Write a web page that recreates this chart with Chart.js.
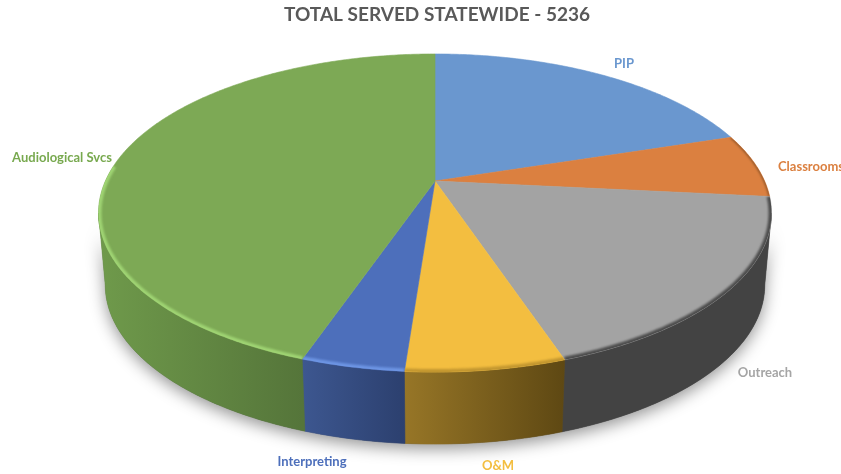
<!DOCTYPE html>
<html>
<head>
<meta charset="utf-8">
<title>Total served statewide</title>
<style>
  html, body { margin: 0; padding: 0; background: #fff; overflow: hidden; }
  canvas { display: block; }
</style>
<script src="https://cdn.jsdelivr.net/npm/chart.js@4/dist/chart.umd.min.js"></script>
</head>
<body>
<canvas id="served-pie" width="841" height="474"></canvas>
<script>
// Program totals, clockwise from 12 o'clock
const programs = ['PIP', 'Classrooms', 'Outreach', 'O&M', 'Interpreting', 'Audiological Svcs'];
const served = [1052, 340, 956, 332, 215, 2341];
const titleText = 'TOTAL SERVED STATEWIDE - 5236';

const topColors = ['#6a97cf', '#db8040', '#a3a3a3', '#f3be40', '#4d6fbb', '#7da955'];
const labelColors = ['#6a97cf', '#db8040', '#a5a5a5', '#f3be40', '#4d6fbb', '#78a94f'];
// wall gradient, left end then right end
const wallColors = [null, null, ['#434343', '#434343'], ['#977627', '#5e4813'], ['#3d5790', '#2c406f'], ['#6f9a4b', '#55753a']];
// rim bevel colour per slice, null = no bevel
const rimColors = [null, '#8f5427', '#4c4c4c', '#c2962f', '#6d95e4', '#9fd473'];
const labelSpots = [[624, 64], [778, 167], [765, 373], [498, 466], [312, 462], [62, 158]];

// Tilted disc: the pie plane is projected with a small perspective term
const view = { cx: 435, cy: 181, a: 329.6, b: 152.6, p: 0.2013, wallA: 323, depth: 72 };

function rimPoint(angle, radius, a, drop) {
    const u = Math.cos(angle) * radius;
    const v = Math.sin(angle) * radius;
    const w = 1 - view.p * v;
    return [view.cx + a * u / w, view.cy + view.b * v / w + drop];
}

function traceRim(ctx, from, to, radius, a, drop, keepGoing) {
    const steps = Math.max(2, Math.ceil(Math.abs(to - from) / 0.01));
    for (let i = 0; i <= steps; i++) {
        const pt = rimPoint(from + (to - from) * i / steps, radius, a, drop);
        if (i === 0 && !keepGoing) ctx.moveTo(pt[0], pt[1]);
        else ctx.lineTo(pt[0], pt[1]);
    }
}

function traceWall(ctx, from, to) {
    ctx.beginPath();
    traceRim(ctx, from, to, 1, view.a, 0, false);
    traceRim(ctx, to, from, 1, view.wallA, view.depth, true);
    ctx.closePath();
}

function traceSlice(ctx, from, to) {
    ctx.beginPath();
    ctx.moveTo(view.cx, view.cy);
    traceRim(ctx, from, to, 1, view.a, 0, true);
    ctx.closePath();
}

const tiltedPie = {
    id: 'tiltedPie',
    // stands in for the flat arc drawing, still reads angles off the arc elements
    beforeDatasetsDraw(chart) {
        const ctx = chart.ctx;
        const arcs = chart.getDatasetMeta(0).data;
        const wallFrom = Math.asin(view.p);
        const wallTo = Math.PI - wallFrom;

        // soft ground shadow under the whole wall
        ctx.save();
        ctx.shadowColor = 'rgba(0,0,0,0.42)';
        ctx.shadowBlur = 16;
        ctx.shadowOffsetY = 5;
        ctx.fillStyle = '#555';
        traceWall(ctx, wallFrom, wallTo);
        ctx.fill();
        ctx.restore();

        arcs.forEach((arc, i) => {
            if (!wallColors[i]) return;
            const from = Math.max(arc.startAngle, wallFrom);
            const to = Math.min(arc.endAngle, wallTo);
            if (to <= from) return;
            const left = rimPoint(to, 1, view.a, 0)[0];
            const right = rimPoint(from, 1, view.a, 0)[0];
            const grad = ctx.createLinearGradient(left, 0, right, 0);
            grad.addColorStop(0, wallColors[i][0]);
            grad.addColorStop(1, wallColors[i][1]);
            ctx.fillStyle = grad;
            ctx.strokeStyle = grad;
            ctx.lineWidth = 0.6;
            traceWall(ctx, from, to);
            ctx.fill();
            ctx.stroke();
        });

        arcs.forEach((arc, i) => {
            ctx.fillStyle = topColors[i];
            ctx.strokeStyle = topColors[i];
            ctx.lineWidth = 0.6;
            traceSlice(ctx, arc.startAngle, arc.endAngle);
            ctx.fill();
            ctx.stroke();
        });

        // bevel along the outer edge of the top face, clipped so only the inner half shows
        arcs.forEach((arc, i) => {
            if (!rimColors[i]) return;
            const from = arc.startAngle;
            const to = Math.min(arc.endAngle, Math.PI + 0.1);
            ctx.save();
            traceSlice(ctx, arc.startAngle, arc.endAngle);
            ctx.clip();
            ctx.filter = 'blur(1px)';
            ctx.strokeStyle = rimColors[i];
            ctx.lineWidth = i === 1 ? 2.4 : 6;
            ctx.beginPath();
            traceRim(ctx, from, to, 1, view.a, 0, false);
            ctx.stroke();
            ctx.restore();
        });

        return false;
    },
    afterDraw(chart) {
        const ctx = chart.ctx;
        ctx.save();
        ctx.font = 'bold 13px Lato';
        ctx.textBaseline = 'middle';
        programs.forEach((name, i) => {
            ctx.fillStyle = labelColors[i];
            // Classrooms runs off the right edge, so it is anchored by its left side
            ctx.textAlign = i === 1 ? 'left' : 'center';
            ctx.fillText(name, labelSpots[i][0], labelSpots[i][1]);
        });
        ctx.restore();
    }
};

new Chart(document.getElementById('served-pie').getContext('2d'), {
    type: 'pie',
    data: {
        labels: programs,
        datasets: [{ data: served, backgroundColor: topColors, borderWidth: 0 }]
    },
    options: {
        responsive: false,
        animation: false,
        layout: { padding: { left: 33 } },
        plugins: {
            legend: { display: false },
            tooltip: { enabled: false },
            title: {
                display: true,
                text: titleText,
                color: '#595959',
                font: { family: 'Lato', size: 19, weight: 'bold' },
                padding: { top: 3, bottom: 8 }
            }
        }
    },
    plugins: [tiltedPie]
});
</script>
</body>
</html>
